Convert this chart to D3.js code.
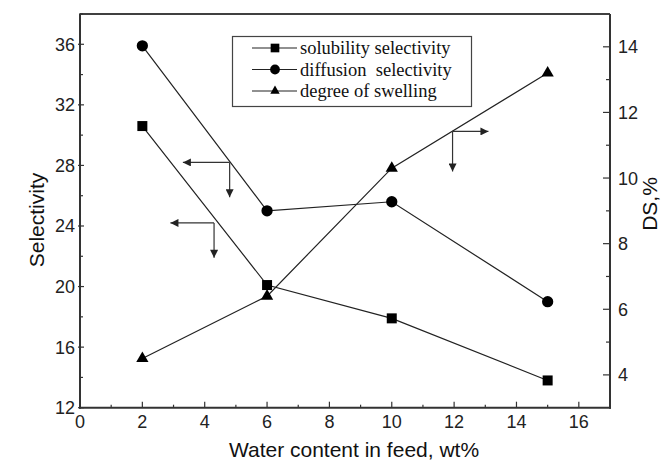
<!DOCTYPE html>
<html><head><meta charset="utf-8">
<script src="https://cdn.jsdelivr.net/npm/d3@7"></script>
<style>body{margin:0;background:#fff}</style>
</head><body>
<script>
const water = [2, 6, 10, 15];
const solubility = [30.6, 20.1, 17.9, 13.8];
const diffusion = [35.9, 25.0, 25.6, 19.0];
const swelling = [4.5, 6.4, 10.3, 13.2];
const xTicks = [0, 2, 4, 6, 8, 10, 12, 14, 16];
const yLeftTicks = [12, 16, 20, 24, 28, 32, 36];
const yRightTicks = [4, 6, 8, 10, 12, 14];
const legendLabels = ["solubility selectivity", "diffusion  selectivity", "degree of swelling"];
// annotation arrows: [corner x, corner y (axis units), tip x, tip y-axis value]
const arrowsLeft = [[4.8, 28.2, 3.3, 25.9], [4.3, 24.2, 2.9, 21.9]];
const arrowsRight = [[11.95, 11.42, 13.1, 10.2]];

const W = 662, H = 461;
const m = {l: 80, r: 52, t: 14, b: 53};
const svg = d3.select("body").append("svg").attr("width", W).attr("height", H);
const x = d3.scaleLinear().domain([0, 17]).range([m.l, W - m.r]);
const yL = d3.scaleLinear().domain([12, 38]).range([H - m.b - 0.3, m.t]);
const yR = d3.scaleLinear().domain([3, 15]).range([H - m.b - 0.3, m.t]);
const axCol = "#333";
const x0 = m.l, x1 = W - m.r, y0 = H - m.b - 0.3, y1 = m.t;

// frame
svg.append("line").attr("x1", x0).attr("x2", x1).attr("y1", y1).attr("y2", y1).attr("stroke", "#000").attr("stroke-width", 1.6);

function ticks(axis, scale, major, minors, pos, inLen, outLen, minorLen) {
  const g = svg.append("g").attr("stroke", axCol).attr("stroke-width", 1.2);
  major.forEach(v => tick(v, inLen, outLen));
  minors.forEach(v => tick(v, minorLen, outLen > 0 ? 1 : 0));
  function tick(v, a, b) {
    const p = scale(v);
    if (axis === "b") g.append("line").attr("x1", p).attr("x2", p).attr("y1", pos + b).attr("y2", pos - a);
    if (axis === "l") g.append("line").attr("y1", p).attr("y2", p).attr("x1", pos - b).attr("x2", pos + a);
    if (axis === "r") g.append("line").attr("y1", p).attr("y2", p).attr("x1", pos + b).attr("x2", pos - a);
  }
}
ticks("b", x, xTicks, xTicks.slice(0, -1).map(d => d + 1), y0, 6, 0, 3);
ticks("l", yL, yLeftTicks, yLeftTicks.map(d => d + 2), x0, 4, 2, 3);
ticks("r", yR, yRightTicks, yRightTicks.filter(d => d < 14).map(d => d + 1), x1, 7, 0, 4);

const ax = svg.append("g").attr("stroke", axCol).attr("stroke-width", 2).attr("fill", "none");
ax.append("line").attr("x1", x0).attr("x2", x0).attr("y1", y1).attr("y2", y0 + 1);
ax.append("line").attr("x1", x1).attr("x2", x1).attr("y1", y1).attr("y2", y0 + 1);
ax.append("line").attr("x1", x0 - 1).attr("x2", x1 + 1).attr("y1", y0).attr("y2", y0);

const font = "Liberation Sans, Arial, sans-serif";
const tl = svg.append("g").attr("font-family", font).attr("font-size", 18).attr("fill", "#222");
xTicks.forEach(v => tl.append("text").attr("x", x(v)).attr("y", y0 + 20.5).attr("text-anchor", "middle").text(v));
yLeftTicks.forEach(v => tl.append("text").attr("x", x0 - 5).attr("y", yL(v)).attr("dy", "0.36em").attr("text-anchor", "end").text(v));
yRightTicks.forEach(v => tl.append("text").attr("x", x1 + 8).attr("y", yR(v)).attr("dy", "0.36em").attr("text-anchor", "start").text(v));

svg.append("text").attr("x", 354).attr("y", 457).attr("text-anchor", "middle").attr("font-family", font).attr("font-size", 21).attr("fill", "#111").text("Water content in feed, wt%");
svg.append("text").attr("transform", `translate(44,220) rotate(-90)`).attr("text-anchor", "middle").attr("font-family", font).attr("font-size", 21).attr("fill", "#111").text("Selectivity");
svg.append("text").attr("transform", `translate(657,204) rotate(-90)`).attr("text-anchor", "middle").attr("font-family", font).attr("font-size", 21).attr("fill", "#111").text("DS,%");

// series
const line = (ys, sc) => d3.line().x((d, i) => x(water[i])).y(d => sc(d))(ys);
const series = [
  {vals: solubility, sc: yL, sym: d3.symbolSquare, size: 100},
  {vals: diffusion, sc: yL, sym: d3.symbolCircle, size: 100},
  {vals: swelling, sc: yR, sym: d3.symbolTriangle, size: 65}
];
series.forEach(s => {
  svg.append("path").attr("d", line(s.vals, s.sc)).attr("fill", "none").attr("stroke", "#222").attr("stroke-width", 1.2);
  s.vals.forEach((v, i) => svg.append("path").attr("d", d3.symbol(s.sym, s.size)()).attr("transform", `translate(${x(water[i])},${s.sc(v)})`).attr("fill", "#000"));
});

// arrows
const defs = svg.append("defs");
defs.append("marker").attr("id", "ah").attr("viewBox", "0 0 10 10").attr("refX", 10).attr("refY", 5)
  .attr("markerWidth", 12).attr("markerHeight", 8).attr("markerUnits", "userSpaceOnUse").attr("orient", "auto")
  .append("path").attr("d", "M0,0 L10,5 L0,10 Z").attr("fill", "#222");
function arrowPair(a, sc) {
  const cx = x(a[0]), cy = sc(a[1]);
  svg.append("line").attr("x1", cx).attr("y1", cy).attr("x2", x(a[2])).attr("y2", cy).attr("stroke", "#333").attr("stroke-width", 1.2).attr("marker-end", "url(#ah)");
  svg.append("line").attr("x1", cx).attr("y1", cy).attr("x2", cx).attr("y2", sc(a[3])).attr("stroke", "#333").attr("stroke-width", 1.2).attr("marker-end", "url(#ah)");
}
arrowsLeft.forEach(a => arrowPair(a, yL));
arrowsRight.forEach(a => arrowPair(a, yR));

// legend
const lg = svg.append("g");
lg.append("rect").attr("x", 232.5).attr("y", 36.5).attr("width", 239).attr("height", 70).attr("fill", "#fff").attr("stroke", "#444").attr("stroke-width", 1.2);
legendLabels.forEach((t, i) => {
  const cy = 48 + i * 21.5;
  lg.append("line").attr("x1", 252).attr("x2", 297).attr("y1", cy).attr("y2", cy).attr("stroke", "#222").attr("stroke-width", 1.2);
  lg.append("path").attr("d", d3.symbol(series[i].sym, i === 2 ? 38 : 75)()).attr("transform", `translate(275,${cy})`).attr("fill", "#000");
  lg.append("text").attr("x", 300).attr("y", cy).attr("dy", "0.33em").attr("font-family", "Liberation Serif, Times New Roman, serif").attr("font-size", 18.5).attr("fill", "#111").style("white-space", "pre").text(t);
});
</script>
</body></html>
